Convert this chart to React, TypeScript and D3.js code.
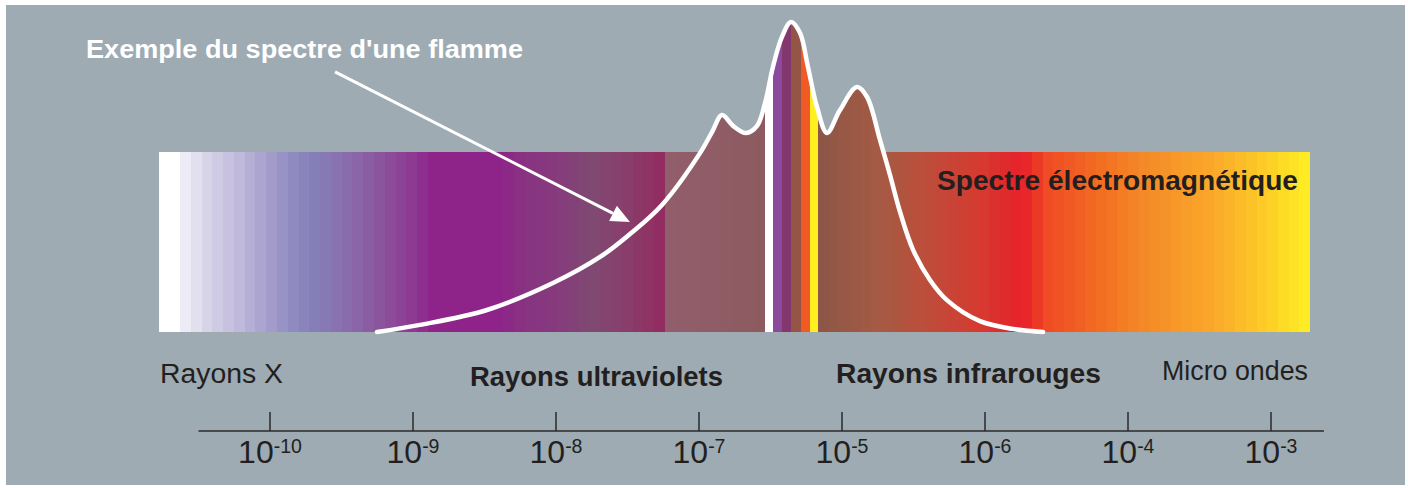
import React from 'react';
import * as d3 from 'd3';

// Axis tick exponents (as printed in the reference, in its order)
const tickExponents = ['-10', '-9', '-8', '-7', '-5', '-6', '-4', '-3'];

// Region labels
const regionLabels = ['Rayons X', 'Rayons ultraviolets', 'Rayons infrarouges', 'Micro ondes'];

// Flame spectrum curve: position along the axis (tick index units) and relative intensity
const curveU = [0.748, 1.049, 1.517, 1.979, 2.308, 2.517, 2.741, 3.007, 3.091, 3.161, 3.238, 3.329, 3.406, 3.462, 3.517, 3.58, 3.643, 3.706, 3.762, 3.825, 3.895, 3.986, 4.105, 4.175, 4.266, 4.336, 4.406, 4.497, 4.615, 4.734, 4.965, 5.196, 5.406];
const curveV = [0, 0.023, 0.071, 0.158, 0.242, 0.316, 0.41, 0.577, 0.645, 0.7, 0.665, 0.642, 0.665, 0.739, 0.855, 0.952, 1.0, 0.965, 0.855, 0.726, 0.642, 0.716, 0.79, 0.758, 0.619, 0.506, 0.387, 0.265, 0.168, 0.103, 0.035, 0.01, 0];

// Spectrum band extent (axis units) and height (intensity units)
const bandStart = -0.776;
const bandEnd = 7.273;
const bandTop = 0.581;

// Colour stops of the band
const whiteStops: [number, string][] = [[-0.776, '#FFFFFF'], [-0.629, '#FFFFFF']];
const xrayUvStops: [number, string][] = [
  [-0.629, '#F3F1F8'], [-0.476, '#DCD8EA'], [-0.245, '#C3BDDD'], [-0.014, '#A69ECB'],
  [0.14, '#918DC3'], [0.28, '#8580B8'], [0.42, '#8777B2'], [0.65, '#8A62A5'],
  [0.888, '#8C4796'], [1.028, '#8E3591'], [1.119, '#8E2489'], [1.608, '#8E2489'],
  [1.797, '#873481'], [2.028, '#863C7C'], [2.238, '#7E4A72'], [2.378, '#854470'],
  [2.552, '#8B3A67'], [2.762, '#922A5E'],
];
const nearUvStops: [number, string][] = [[2.762, '#935E6C'], [3.462, '#8C5A5E']];
const visibleStripes: [number, number, string][] = [
  [3.462, 3.517, '#FFFFFF'], [3.517, 3.58, '#8B4A9B'], [3.58, 3.643, '#84366E'],
  [3.643, 3.713, '#955546'], [3.713, 3.776, '#F15A24'], [3.776, 3.832, '#FFF021'],
];
const irStops: [number, string][] = [
  [3.832, '#8C5646'], [4.266, '#A55A44'], [4.615, '#BF4C3A'], [4.965, '#D53A30'],
  [5.266, '#E8202A'], [5.434, '#EF4A24'], [5.783, '#F26C22'], [6.133, '#F48B27'],
  [6.594, '#FAA82A'], [6.944, '#FDCB28'], [7.273, '#FFEF22'],
];

// Arrow annotation (axis units / intensity units)
const arrowFrom: [number, number] = [0.455, 0.839];
const arrowTo: [number, number] = [2.517, 0.355];

const FONT = '"Liberation Sans", Arial, Helvetica, sans-serif';
const DARK = '#231F20';

export default function App() {
  const W = 1408;
  const H = 488;
  const x = d3.scaleLinear().domain([0, 7]).range([270, 1271]);
  const y = d3.scaleLinear().domain([0, 1]).range([332, 22]);

  const pts: [number, number][] = curveU.map((u, i) => [x(u), y(curveV[i])]);
  const lineGen = d3.line().curve(d3.curveCatmullRom.alpha(0.5));
  const areaGen = d3
    .area<[number, number]>()
    .x((d) => d[0])
    .y0(y(0))
    .y1((d) => d[1])
    .curve(d3.curveCatmullRom.alpha(0.5));

  const stripeW = 10.7;
  const makeStripes = (stops: [number, string][], key: string) => {
    const p0 = x(stops[0][0]);
    const p1 = x(stops[stops.length - 1][0]);
    const n = Math.max(1, Math.round((p1 - p0) / stripeW));
    const sc = d3
      .scaleLinear<string>()
      .domain(stops.map((s) => s[0]))
      .range(stops.map((s) => s[1]))
      .interpolate(d3.interpolateRgb);
    return d3.range(n).map((i) => {
      const a = p0 + ((p1 - p0) * i) / n;
      const b = p0 + ((p1 - p0) * (i + 1)) / n;
      return (
        <rect
          key={key + i}
          x={a}
          y={0}
          width={b - a + (i < n - 1 ? 0.5 : 0)}
          height={y(0)}
          fill={sc(x.invert((a + b) / 2))}
        />
      );
    });
  };

  // arrow geometry
  const ax0 = x(arrowFrom[0]);
  const ay0 = y(arrowFrom[1]);
  const ax1 = x(arrowTo[0]);
  const ay1 = y(arrowTo[1]);
  const ang = Math.atan2(ay1 - ay0, ax1 - ax0);
  const headLen = 19;
  const headHalf = 8.5;
  const bx = ax1 - headLen * Math.cos(ang);
  const by = ay1 - headLen * Math.sin(ang);
  const head = [
    [ax1, ay1],
    [bx + headHalf * Math.sin(ang), by - headHalf * Math.cos(ang)],
    [bx - headHalf * Math.sin(ang), by + headHalf * Math.cos(ang)],
  ];

  const axisY = 431;
  const labelPos = [
    { x: 160, y: 383, w: 123, bold: false },
    { x: 470, y: 386, w: 253, bold: true },
    { x: 836, y: 383, w: 265, bold: true },
    { x: 1162, y: 380, w: 146, bold: false },
  ];

  return (
    <svg
      width={W}
      height={H}
      style={{ position: 'absolute', left: 0, top: 0, display: 'block' }}
      fontFamily={FONT}
    >
      <rect x={0} y={0} width={W} height={H} fill="#FFFFFF" />
      <rect x={6} y={5} width={1399} height={480} fill="#9EABB3" />

      <defs>
        <clipPath id="bandClip">
          <rect x={x(bandStart)} y={y(bandTop)} width={x(bandEnd) - x(bandStart)} height={y(0) - y(bandTop)} />
          <path d={areaGen(pts) || ''} />
        </clipPath>
      </defs>

      <g clipPath="url(#bandClip)" shapeRendering="crispEdges">
        {makeStripes(whiteStops, 'w')}
        {makeStripes(xrayUvStops, 'a')}
        {makeStripes(nearUvStops, 'b')}
        {visibleStripes.map((s, i) => (
          <rect key={'v' + i} x={x(s[0])} y={0} width={x(s[1]) - x(s[0]) + 0.5} height={y(0)} fill={s[2]} />
        ))}
        {makeStripes(irStops, 'c')}
      </g>

      <path
        d={lineGen(pts) || ''}
        fill="none"
        stroke="#FFFFFF"
        strokeWidth={4.5}
        strokeLinecap="round"
        strokeLinejoin="round"
      />

      {/* arrow */}
      <line x1={ax0} y1={ay0} x2={bx} y2={by} stroke="#FFFFFF" strokeWidth={3} />
      <polygon points={head.map((p) => p.join(',')).join(' ')} fill="#FFFFFF" />

      <text x={86} y={58} fill="#FFFFFF" fontWeight="bold" fontSize={25} textLength={437} lengthAdjust="spacingAndGlyphs">
        Exemple du spectre d'une flamme
      </text>
      <text x={937} y={190} fill={DARK} fontWeight="bold" fontSize={28} textLength={361} lengthAdjust="spacingAndGlyphs">
        Spectre électromagnétique
      </text>

      {regionLabels.map((t, i) => (
        <text
          key={t}
          x={labelPos[i].x}
          y={labelPos[i].y}
          fill={DARK}
          fontSize={27}
          fontWeight={labelPos[i].bold ? 'bold' : 'normal'}
          textLength={labelPos[i].w}
          lengthAdjust="spacingAndGlyphs"
        >
          {t}
        </text>
      ))}

      {/* axis */}
      <line x1={x(-0.5)} x2={x(7.37)} y1={axisY} y2={axisY} stroke="#2A2A2A" strokeWidth={1.5} />
      {tickExponents.map((e, i) => (
        <g key={'t' + i}>
          <line x1={x(i)} x2={x(i)} y1={412} y2={axisY} stroke="#2A2A2A" strokeWidth={1.5} />
          <text x={x(i)} y={463} fill={DARK} textAnchor="middle" fontSize={32}>
            10
            <tspan fontSize={19.5} dy={-10}>
              {e}
            </tspan>
          </text>
        </g>
      ))}
    </svg>
  );
}
